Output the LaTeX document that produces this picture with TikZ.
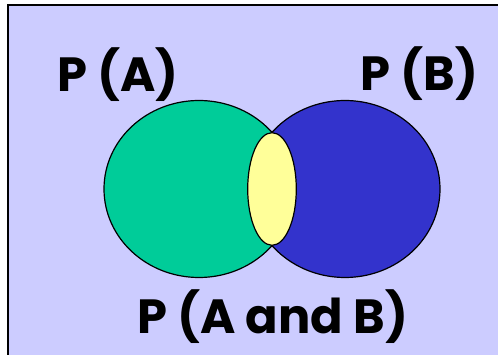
\documentclass[tikz,border=0pt]{standalone}
\usepackage{fontspec}
\setmainfont{Poppins}
\usetikzlibrary{shapes.geometric}
\definecolor{lavender}{HTML}{CCCCFF}
\definecolor{setgreen}{HTML}{00CC99}
\definecolor{setblue}{HTML}{3333CC}
\definecolor{setyellow}{HTML}{FFFF99}

\begin{document}
\begin{tikzpicture}[
  x=1pt, y=-1pt,
  setshape/.style={ellipse, draw, line width=1.2pt, inner sep=0pt},
  tag/.style={anchor=base, font=\fontsize{48}{56}\selectfont\bfseries}
]
\useasboundingbox (0,0) rectangle (498,355);
\fill[lavender] (8,5) rectangle (498,355);
\draw[line width=2pt] (8,356) -- (8,5) -- (499,5);

\node[setshape, fill=setgreen, minimum width=190, minimum height=177] (A) at (199,189) {};
\node[setshape, fill=setblue, minimum width=190, minimum height=177] (B) at (345,189) {};
\node[setshape, fill=setyellow, minimum width=48.6, minimum height=112.6] (AB) at (272,189) {};

\node[tag] (PA) at (118,92) {P (A)};
\node[tag] (PB) at (419.5,91) {P (B)};
\node[tag] (PAB) at (272.5,334) {P (A and B)};
\end{tikzpicture}
\end{document}
